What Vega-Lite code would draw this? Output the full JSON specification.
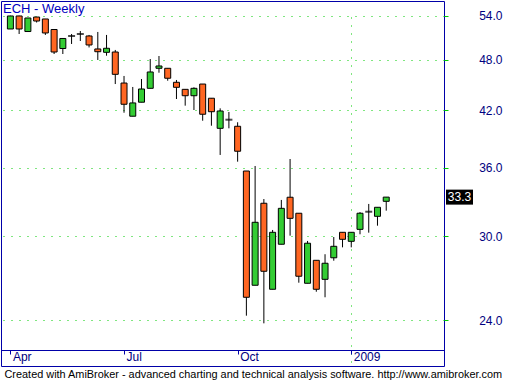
{
  "$schema": "https://vega.github.io/schema/vega-lite/v6.json",
  "width": 443,
  "height": 365,
  "autosize": "none",
  "padding": {"left": 1, "top": 1, "right": 61, "bottom": 14},
  "background": "white",
  "view": {"stroke": "#0000A8", "strokeWidth": 1},
  "config": {"font": "Liberation Sans"},
  "title": {
    "text": "ECH - Weekly",
    "anchor": "start",
    "frame": "group",
    "orient": "top",
    "offset": -25,
    "dx": 2,
    "baseline": "alphabetic",
    "font": "Liberation Sans",
    "fontSize": 13,
    "fontWeight": "normal",
    "color": "#0000C0"
  },
  "data": {
    "values": [
      {"date": "2008-04-04", "open": 52.12, "high": 54.0, "low": 52.12, "close": 53.96},
      {"date": "2008-04-11", "open": 53.96, "high": 54.0, "low": 51.43, "close": 52.12},
      {"date": "2008-04-18", "open": 51.77, "high": 53.67, "low": 51.77, "close": 53.67},
      {"date": "2008-04-25", "open": 53.81, "high": 53.81, "low": 53.03, "close": 53.24},
      {"date": "2008-05-02", "open": 53.53, "high": 53.53, "low": 51.3, "close": 51.57},
      {"date": "2008-05-09", "open": 52.05, "high": 52.05, "low": 48.76, "close": 49.02},
      {"date": "2008-05-16", "open": 49.48, "high": 50.82, "low": 48.76, "close": 50.82},
      {"date": "2008-05-23", "open": 51.16, "high": 51.43, "low": 50.08, "close": 51.16},
      {"date": "2008-05-30", "open": 51.43, "high": 51.84, "low": 50.48, "close": 51.43},
      {"date": "2008-06-06", "open": 51.16, "high": 51.3, "low": 49.62, "close": 49.95},
      {"date": "2008-06-13", "open": 49.42, "high": 51.71, "low": 47.99, "close": 49.06},
      {"date": "2008-06-20", "open": 48.98, "high": 51.3, "low": 48.54, "close": 49.51},
      {"date": "2008-06-27", "open": 49.02, "high": 49.29, "low": 45.01, "close": 46.19},
      {"date": "2008-07-04", "open": 45.13, "high": 45.99, "low": 41.7, "close": 42.65},
      {"date": "2008-07-11", "open": 41.31, "high": 44.66, "low": 41.31, "close": 42.8},
      {"date": "2008-07-18", "open": 42.88, "high": 45.62, "low": 42.88, "close": 44.42},
      {"date": "2008-07-25", "open": 44.5, "high": 48.11, "low": 44.5, "close": 46.48},
      {"date": "2008-08-01", "open": 46.94, "high": 48.5, "low": 46.39, "close": 47.23},
      {"date": "2008-08-08", "open": 46.94, "high": 46.94, "low": 45.41, "close": 45.71},
      {"date": "2008-08-15", "open": 45.22, "high": 45.5, "low": 43.25, "close": 44.62},
      {"date": "2008-08-22", "open": 44.38, "high": 44.38, "low": 42.49, "close": 43.63},
      {"date": "2008-08-29", "open": 43.63, "high": 44.62, "low": 42.0, "close": 44.5},
      {"date": "2008-09-05", "open": 45.01, "high": 45.01, "low": 40.82, "close": 41.53},
      {"date": "2008-09-12", "open": 43.34, "high": 43.34, "low": 40.28, "close": 41.81},
      {"date": "2008-09-19", "open": 40.0, "high": 42.19, "low": 37.26, "close": 41.89},
      {"date": "2008-09-26", "open": 40.93, "high": 41.78, "low": 40.0, "close": 40.93},
      {"date": "2008-10-03", "open": 40.22, "high": 40.65, "low": 36.6, "close": 37.63},
      {"date": "2008-10-10", "open": 35.7, "high": 35.7, "low": 24.28, "close": 25.5},
      {"date": "2008-10-17", "open": 26.33, "high": 36.18, "low": 26.33, "close": 31.14},
      {"date": "2008-10-24", "open": 32.76, "high": 33.13, "low": 23.79, "close": 27.33},
      {"date": "2008-10-31", "open": 26.05, "high": 30.51, "low": 26.05, "close": 30.32},
      {"date": "2008-11-07", "open": 29.37, "high": 33.05, "low": 29.37, "close": 32.32},
      {"date": "2008-11-14", "open": 33.29, "high": 36.86, "low": 30.05, "close": 31.47},
      {"date": "2008-11-21", "open": 31.9, "high": 31.9, "low": 26.51, "close": 26.97},
      {"date": "2008-11-28", "open": 26.47, "high": 29.63, "low": 26.47, "close": 29.45},
      {"date": "2008-12-05", "open": 28.14, "high": 28.14, "low": 25.88, "close": 26.05},
      {"date": "2008-12-12", "open": 26.75, "high": 28.6, "low": 25.5, "close": 27.92},
      {"date": "2008-12-19", "open": 28.33, "high": 29.94, "low": 28.11, "close": 29.21},
      {"date": "2008-12-26", "open": 30.32, "high": 30.32, "low": 29.13, "close": 29.76},
      {"date": "2009-01-02", "open": 29.6, "high": 30.32, "low": 29.13, "close": 30.32},
      {"date": "2009-01-09", "open": 30.56, "high": 32.0, "low": 30.16, "close": 31.9},
      {"date": "2009-01-16", "open": 32.03, "high": 32.7, "low": 30.29, "close": 32.03},
      {"date": "2009-01-23", "open": 31.64, "high": 32.41, "low": 30.86, "close": 32.41},
      {"date": "2009-01-30", "open": 32.93, "high": 33.3, "low": 32.12, "close": 33.3}
    ]
  },
  "encoding": {
    "x": {
      "field": "date",
      "type": "temporal",
      "scale": {
        "domain": [
          {"year": 2008, "month": 3, "date": 31, "hours": 11, "minutes": 30, "utc": true},
          {"year": 2009, "month": 3, "date": 13, "hours": 6, "minutes": 30, "utc": true}
        ],
        "nice": false
      },
      "axis": {
        "orient": "bottom",
        "offset": -16,
        "values": [
          {"year": 2008, "month": 4, "date": 4, "utc": true},
          {"year": 2008, "month": 7, "date": 4, "utc": true},
          {"year": 2008, "month": 10, "date": 3, "utc": true},
          {"year": 2009, "month": 1, "date": 2, "utc": true}
        ],
        "labelExpr": "utcmonth(datum.value) == 0 ? utcFormat(datum.value, '%Y') : utcFormat(datum.value, '%b')",
        "domainColor": "#0000A8",
        "tickColor": "#0000A8",
        "tickSize": 4,
        "labelAlign": "left",
        "labelBaseline": "top",
        "labelPadding": -3,
        "labelOffset": 2,
        "labelColor": "#000080",
        "labelFont": "Liberation Sans",
        "labelFontSize": 12,
        "labelFlush": false,
        "labelOverlap": false,
        "grid": true,
        "gridColor": "#00CC00",
        "gridDash": [1, 7],
        "gridOpacity": {"condition": {"test": "utcmonth(datum.value) == 0", "value": 1}, "value": 0},
        "title": "Created with AmiBroker - advanced charting and technical analysis software. http://www.amibroker.com",
        "titleColor": "black",
        "titleFont": "Liberation Sans",
        "titleFontSize": 10.9,
        "titleFontWeight": "normal",
        "titleAnchor": "start",
        "titleAlign": "left",
        "titleBaseline": "alphabetic",
        "titleX": 3,
        "titleY": 27
      }
    }
  },
  "layer": [
    {
      "mark": {"type": "rule", "color": "black", "strokeWidth": 1},
      "encoding": {
        "y": {
          "field": "low",
          "type": "quantitative",
          "scale": {"type": "log", "domain": [22.158, 56.157], "range": [349, 0], "nice": false, "zero": false},
          "axis": {
            "orient": "right",
            "values": [24, 30, 36, 42, 48, 54],
            "format": ".1f",
            "domain": false,
            "tickColor": "#00CC00",
            "tickSize": 4,
            "labelAlign": "right",
            "labelBaseline": "middle",
            "labelPadding": 54,
            "labelColor": "#000080",
            "labelFont": "Liberation Sans",
            "labelFontSize": 12,
            "labelFlush": false,
            "grid": true,
            "gridColor": "#00CC00",
            "gridDash": [1, 7],
            "title": null
          }
        },
        "y2": {"field": "high"}
      }
    },
    {
      "transform": [{"filter": "datum.open != datum.close"}],
      "mark": {"type": "bar", "width": 6, "stroke": "black", "strokeWidth": 1},
      "encoding": {
        "y": {"field": "open", "type": "quantitative"},
        "y2": {"field": "close"},
        "fill": {"condition": {"test": "datum.close > datum.open", "value": "#33CC33"}, "value": "#FF6622"}
      }
    },
    {
      "transform": [{"filter": "datum.open == datum.close"}],
      "mark": {"type": "tick", "orient": "horizontal", "color": "black", "thickness": 2, "size": 7},
      "encoding": {
        "y": {"field": "close", "type": "quantitative"}
      }
    },
    {
      "transform": [
        {"window": [{"op": "row_number", "as": "rn"}], "sort": [{"field": "date", "order": "descending"}]},
        {"filter": "datum.rn == 1"}
      ],
      "mark": {"type": "rule", "color": "black", "strokeWidth": 15, "strokeCap": "butt"},
      "encoding": {
        "x": {"value": {"expr": "width + 2"}},
        "x2": {"value": {"expr": "width + 29"}},
        "y": {"field": "close", "type": "quantitative"}
      }
    },
    {
      "transform": [
        {"window": [{"op": "row_number", "as": "rn"}], "sort": [{"field": "date", "order": "descending"}]},
        {"filter": "datum.rn == 1"}
      ],
      "mark": {"type": "text", "color": "white", "font": "Liberation Sans", "fontSize": 12, "align": "center", "baseline": "middle"},
      "encoding": {
        "x": {"value": {"expr": "width + 15.5"}},
        "y": {"field": "close", "type": "quantitative"},
        "text": {"field": "close", "type": "quantitative", "format": ".1f"}
      }
    }
  ]
}
